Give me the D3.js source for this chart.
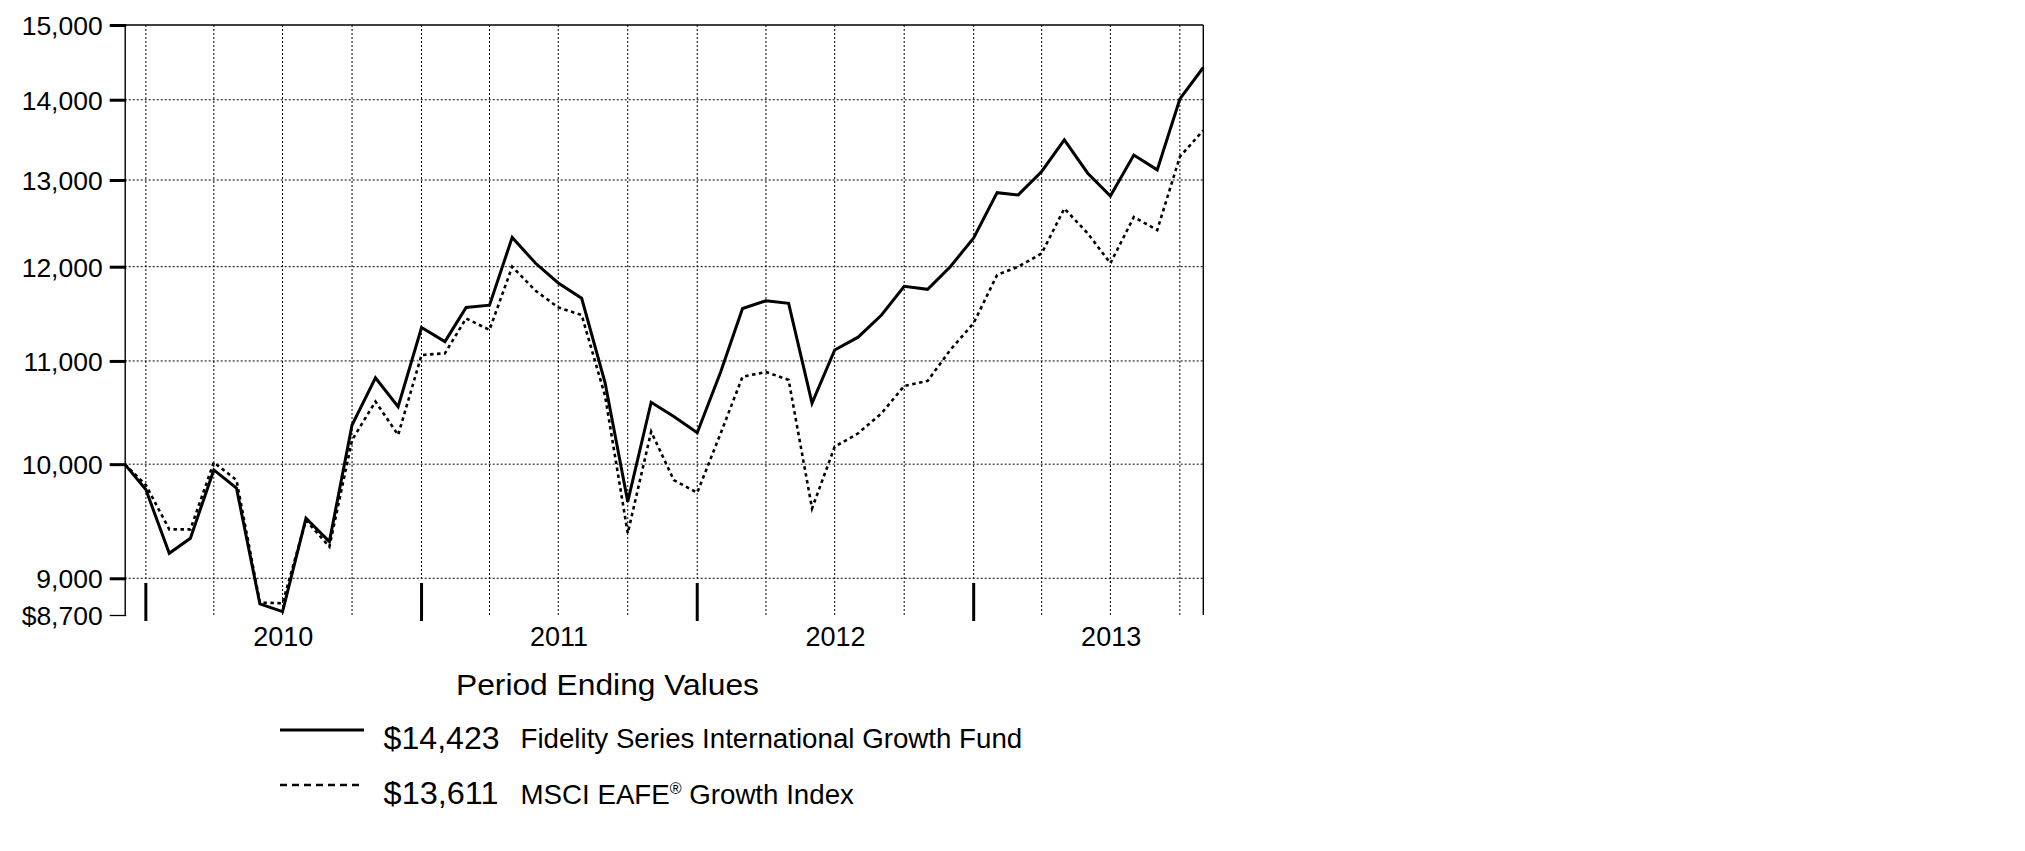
<!DOCTYPE html>
<html>
<head>
<meta charset="utf-8">
<script src="https://cdn.jsdelivr.net/npm/d3@7"></script>
<style>
  html, body { margin: 0; padding: 0; background: #fff; }
  svg { display: block; }
  text { font-family: "Liberation Sans", Arial, Helvetica, sans-serif; fill: #000; }
</style>
</head>
<body>
<svg id="chart" width="2025" height="851"></svg>
<script>
// ---------- data ----------
const startDate = "2009-12-03";
const monthEnds = [
  "2009-12-31","2010-01-31","2010-02-28","2010-03-31","2010-04-30","2010-05-31","2010-06-30",
  "2010-07-31","2010-08-31","2010-09-30","2010-10-31","2010-11-30","2010-12-31",
  "2011-01-31","2011-02-28","2011-03-31","2011-04-30","2011-05-31","2011-06-30",
  "2011-07-31","2011-08-31","2011-09-30","2011-10-31","2011-11-30","2011-12-31",
  "2012-01-31","2012-02-29","2012-03-31","2012-04-30","2012-05-31","2012-06-30",
  "2012-07-31","2012-08-31","2012-09-30","2012-10-31","2012-11-30","2012-12-31",
  "2013-01-31","2013-02-28","2013-03-31","2013-04-30","2013-05-31","2013-06-30",
  "2013-07-31","2013-08-31","2013-09-30","2013-10-31"
];
const fundValues = [
  10000, 9768, 9210, 9339, 9947, 9781, 8789, 8727, 9513, 9310, 10368, 10830, 10545,
  11344, 11198, 11557, 11581, 12329, 12038, 11821, 11655, 10780, 9660, 10588, 10449, 10295,
  10888, 11545, 11628, 11601, 10579, 11112, 11244, 11476, 11784, 11752, 12000, 12322,
  12849, 12822, 13103, 13490, 13082, 12810, 13303, 13122, 14010, 14423
];
const indexValues = [
  10000, 9809, 9416, 9416, 10017, 9854, 8800, 8795, 9495, 9266, 10225, 10595, 10273,
  11060, 11078, 11440, 11320, 12000, 11736, 11557, 11476, 10650, 9382, 10304, 9854, 9740,
  10289, 10841, 10888, 10809, 9600, 10162, 10289, 10481, 10749, 10799, 11112, 11392,
  11909, 12000, 12148, 12662, 12375, 12038, 12563, 12413, 13282, 13611
];
const yTickValues = [15000, 14000, 13000, 12000, 11000, 10000, 9000, 8700];
const yTickLabels = ["15,000", "14,000", "13,000", "12,000", "11,000", "10,000", "9,000", "$8,700"];
const yGridValues = [14000, 13000, 12000, 11000, 10000, 9000];
const yearLabels = ["2010", "2011", "2012", "2013"];
const legendTitle = "Period Ending Values";
const seriesNames = ["Fidelity Series International Growth Fund", "MSCI EAFE", "Growth Index"];
const seriesEndLabels = ["$14,423", "$13,611"];

// ---------- setup ----------
const parse = d3.timeParse("%Y-%m-%d");
const dates = [startDate].concat(monthEnds).map(parse);
const fund = dates.map((d, i) => ({ date: d, v: fundValues[i] }));
const index = dates.map((d, i) => ({ date: d, v: indexValues[i] }));

const svg = d3.select("#chart");
svg.append("rect").attr("width", 2025).attr("height", 851).attr("fill", "#fff");

const pLeft = 124.7, pRight = 1203.3, pTop = 25, pBottom = 615;
const x = d3.scaleTime().domain([dates[0], dates[dates.length - 1]]).range([pLeft, pRight]);
const y = d3.scaleLog().domain([8700, 15000]).range([pBottom, pTop]);

// ---------- grid ----------
const grid = svg.append("g");
grid.selectAll("line.h").data(yGridValues).join("line")
  .attr("x1", pLeft).attr("x2", pRight)
  .attr("y1", d => y(d)).attr("y2", d => y(d))
  .attr("stroke", "#000").attr("stroke-width", 1).attr("stroke-dasharray", "2,2");

const quarterEnds = dates.slice(1).filter(d => d.getMonth() % 3 === 2 && d < dates[dates.length - 1]);
grid.selectAll("line.v").data(quarterEnds).join("line")
  .attr("x1", d => x(d)).attr("x2", d => x(d))
  .attr("y1", pTop)
  .attr("y2", d => d.getMonth() === 11 ? y(9000) : pBottom)
  .attr("stroke", "#000").attr("stroke-width", 1).attr("stroke-dasharray", "2,2");

// year-end heavy ticks
const yearEnds = quarterEnds.filter(d => d.getMonth() === 11);
svg.append("g").selectAll("line").data(yearEnds).join("line")
  .attr("x1", d => x(d)).attr("x2", d => x(d))
  .attr("y1", 583).attr("y2", 621)
  .attr("stroke", "#000").attr("stroke-width", 3);

// frame: top and right
svg.append("line").attr("x1", pLeft).attr("x2", pRight).attr("y1", pTop).attr("y2", pTop)
  .attr("stroke", "#000").attr("stroke-width", 1.4);
svg.append("line").attr("x1", pRight).attr("x2", pRight).attr("y1", pTop).attr("y2", pBottom)
  .attr("stroke", "#000").attr("stroke-width", 1.4);

// ---------- y axis ----------
const yAxis = d3.axisLeft(y)
  .tickValues(yTickValues)
  .tickFormat((d, i) => yTickLabels[i])
  .tickSize(15).tickSizeOuter(0).tickPadding(7);
const ga = svg.append("g").attr("transform", `translate(${pLeft},0)`).call(yAxis);
ga.select(".domain").attr("stroke", "#000").attr("stroke-width", 1.4);
ga.selectAll(".tick line").attr("stroke", "#000")
  .attr("stroke-width", d => d === 8700 ? 1.3 : 3).attr("x2", -15).attr("x1", 1.5);
ga.selectAll(".tick text")
  .attr("font-size", 26.5).attr("fill", "#000").attr("dy", "0.36em")
  .style("font-family", '"Liberation Sans", Arial, sans-serif');

// ---------- year labels ----------
svg.append("g").selectAll("text").data(yearLabels).join("text")
  .attr("x", d => x(new Date(+d, 6, 1)))
  .attr("y", 646)
  .attr("text-anchor", "middle")
  .attr("font-size", 27)
  .text(d => d);

// ---------- series ----------
const line = d3.line().x(d => x(d.date)).y(d => y(d.v));
svg.append("path").datum(index).attr("d", line)
  .attr("fill", "none").attr("stroke", "#000").attr("stroke-width", 2.6)
  .attr("stroke-dasharray", "3.5,3.5");
svg.append("path").datum(fund).attr("d", line)
  .attr("fill", "none").attr("stroke", "#000").attr("stroke-width", 3)
  .attr("stroke-linejoin", "miter");

// ---------- legend ----------
const lg = svg.append("g");
lg.append("text").attr("x", 456).attr("y", 695).attr("font-size", 30)
  .attr("textLength", 303).attr("lengthAdjust", "spacingAndGlyphs").text(legendTitle);

lg.append("line").attr("x1", 280).attr("x2", 364).attr("y1", 730).attr("y2", 730)
  .attr("stroke", "#000").attr("stroke-width", 3);
lg.append("line").attr("x1", 280).attr("x2", 364).attr("y1", 785).attr("y2", 785)
  .attr("stroke", "#000").attr("stroke-width", 2.4).attr("stroke-dasharray", "7,5");

lg.append("text").attr("x", 383.6).attr("y", 748.5).attr("font-size", 31)
  .attr("textLength", 116).attr("lengthAdjust", "spacingAndGlyphs").text(seriesEndLabels[0]);
lg.append("text").attr("x", 383.6).attr("y", 804).attr("font-size", 31)
  .attr("textLength", 115).attr("lengthAdjust", "spacingAndGlyphs").text(seriesEndLabels[1]);

lg.append("text").attr("x", 520.5).attr("y", 748).attr("font-size", 27.7)
  .text(seriesNames[0]);
const t2 = lg.append("text").attr("x", 520.5).attr("y", 804).attr("font-size", 27.7);
t2.append("tspan").text(seriesNames[1]);
t2.append("tspan").attr("font-size", 16).attr("dy", -10).text("®");
t2.append("tspan").attr("dy", 10).text(" " + seriesNames[2]);
</script>
</body>
</html>
